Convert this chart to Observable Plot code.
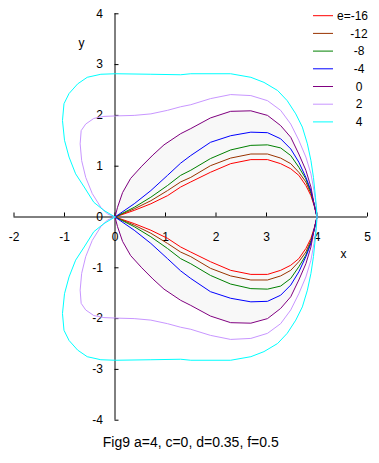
<!DOCTYPE html>
<html>
<head>
<meta charset="utf-8">
<script src="https://cdn.jsdelivr.net/npm/d3@7"></script>
<script src="https://cdn.jsdelivr.net/npm/@observablehq/plot@0.6"></script>
<style>
  html, body { margin: 0; padding: 0; background: #fff; }
</style>
</head>
<body>
<div id="chart"></div>
<script>
// Tick values
const xTicks = [-2, -1, 0, 1, 2, 3, 4, 5];
const yTicks = [-4, -3, -2, -1, 0, 1, 2, 3, 4];
const caption = "Fig9 a=4, c=0, d=0.35, f=0.5";

// Legend labels and colours
const eLabels = ["e=-16", "-12", "-8", "-4", "0", "2", "4"];
const eColors = ["#ff0000", "#993300", "#008000", "#0000ff", "#800080", "#c896ff", "#00ffff"];

// Upper halves of each curve (x, y); the lower half is the mirror image
const eM16 = [[0,0],[0.38,0.13],[0.71,0.26],[1.04,0.42],[1.30,0.59],[1.50,0.69],[1.89,0.88],[2.29,1.05],[2.69,1.13],[3.02,1.13],[3.28,1.05],[3.48,0.95],[3.64,0.82],[3.78,0.62],[3.88,0.42],[3.95,0.20],[4,0]];
const eM12 = [[0,0],[0.38,0.16],[0.71,0.32],[1.04,0.52],[1.30,0.69],[1.50,0.78],[1.89,1.01],[2.29,1.16],[2.69,1.24],[3.02,1.24],[3.28,1.16],[3.48,1.05],[3.64,0.88],[3.78,0.69],[3.88,0.46],[3.95,0.23],[4,0]];
const eM8 = [[0,0],[0.38,0.19],[0.71,0.39],[1.04,0.62],[1.30,0.82],[1.50,0.92],[1.89,1.15],[2.29,1.32],[2.69,1.41],[3.02,1.42],[3.28,1.36],[3.48,1.21],[3.64,0.98],[3.78,0.75],[3.88,0.49],[3.95,0.23],[4,0]];
const eM4 = [[0,0],[0.38,0.26],[0.71,0.52],[1.04,0.82],[1.30,1.06],[1.50,1.21],[1.89,1.47],[2.29,1.60],[2.69,1.67],[3.02,1.66],[3.28,1.54],[3.48,1.34],[3.64,1.08],[3.78,0.78],[3.88,0.52],[3.94,0.26],[4,0]];
const e0 = [[0,0],[0.05,0.19],[0.15,0.48],[0.31,0.76],[0.53,1.0],[0.75,1.22],[0.97,1.42],[1.30,1.64],[1.50,1.74],[1.89,1.95],[2.29,2.08],[2.69,2.09],[3.02,2.00],[3.28,1.80],[3.48,1.57],[3.64,1.24],[3.78,0.92],[3.88,0.59],[3.94,0.26],[4,0]];
const eP2 = [[0,0],[-0.15,0.06],[-0.28,0.19],[-0.45,0.46],[-0.58,0.78],[-0.66,1.11],[-0.69,1.44],[-0.67,1.70],[-0.58,1.83],[-0.42,1.94],[-0.22,1.98],[0.01,1.99],[0.38,2.00],[0.71,2.03],[1.04,2.10],[1.30,2.17],[1.50,2.21],[1.89,2.33],[2.29,2.41],[2.69,2.39],[3.02,2.29],[3.28,2.10],[3.48,1.83],[3.64,1.51],[3.78,1.18],[3.88,0.85],[3.94,0.52],[3.99,0.19],[4,0]];
const eP4 = [[0,0],[-0.22,0.13],[-0.42,0.29],[-0.61,0.59],[-0.78,0.85],[-0.91,1.18],[-1.00,1.51],[-1.04,1.90],[-1.01,2.23],[-0.91,2.43],[-0.74,2.62],[-0.55,2.75],[-0.28,2.81],[0.01,2.82],[0.71,2.81],[1.30,2.80],[1.50,2.82],[2.29,2.82],[2.69,2.75],[2.95,2.65],[3.22,2.49],[3.41,2.29],[3.58,2.03],[3.71,1.77],[3.81,1.44],[3.88,1.11],[3.93,0.78],[3.97,0.39],[4,0]];

const upperHalves = [eM16, eM12, eM8, eM4, e0, eP2, eP4];

// Build closed curves: upper half, then mirrored lower half back to origin
function closed(upper) {
  const up = upper.map(([x, y]) => ({x, y}));
  const low = upper.slice().reverse().map(([x, y]) => ({x, y: -y}));
  return up.concat(low.slice(1));
}
const curves = upperHalves.map(closed);
const fillData = e0.map(([x, y]) => ({x, y}));

const font = "'Liberation Sans', Arial, sans-serif";

const plot = Plot.plot({
  width: 379,
  height: 463,
  marginLeft: 13.5,
  marginRight: 12,
  marginTop: 13.3,
  marginBottom: 43.3,
  style: {fontFamily: font, fontSize: "12px", background: "#fff", color: "#000"},
  x: {domain: [-2, 5], axis: null},
  y: {domain: [-4, 4], axis: null},
  marks: [
    Plot.areaY(fillData, {x: "x", y1: d => -d.y, y2: "y", fill: "#f8f8f8"}),
    Plot.ruleY([0], {stroke: "#000"}),
    Plot.ruleX([0], {stroke: "#000"}),
    Plot.ruleX(xTicks, {x: d => d, y1: () => 0, y2: () => 0, insetTop: -4, stroke: "#000"}),
    Plot.ruleY(yTicks.filter(d => d !== 0), {y: d => d, x1: () => 0, x2: () => 0, insetRight: -4, stroke: "#000"}),
    Plot.text(xTicks, {x: d => d, y: () => 0, text: d => String(d), dy: 20, fill: "#000"}),
    Plot.text(yTicks, {x: () => 0, y: d => d, text: d => String(d), dx: -12, textAnchor: "end", fill: "#000"}),
    Plot.text(["y"], {frameAnchor: "top-left", dx: 64.5, dy: 24.5, text: d => d, fill: "#000"}),
    Plot.text(["x"], {frameAnchor: "top-left", dx: 326.5, dy: 235.5, text: d => d, fill: "#000"}),
    Plot.text([caption], {frameAnchor: "bottom", dy: 27, text: d => d, fill: "#000", fontSize: 14}),
    ...curves.map((c, i) => Plot.line(c, {x: "x", y: "y", stroke: eColors[i], strokeWidth: 1}))
  ]
});

// Legend (top-right)
const g = d3.select(plot).append("g").attr("font-family", font).attr("font-size", 12);
eLabels.forEach((lab, i) => {
  const yy = 15.7 + 17.7 * i;
  g.append("line").attr("x1", 313).attr("x2", 333).attr("y1", yy).attr("y2", yy)
    .attr("stroke", eColors[i]).attr("stroke-width", 1);
  g.append("text").attr("x", i === 0 ? 337 : 359).attr("y", yy).attr("dy", "0.35em")
    .attr("text-anchor", i === 0 ? "start" : "middle").attr("fill", "#000").text(lab);
});

document.getElementById("chart").appendChild(plot);
</script>
</body>
</html>
